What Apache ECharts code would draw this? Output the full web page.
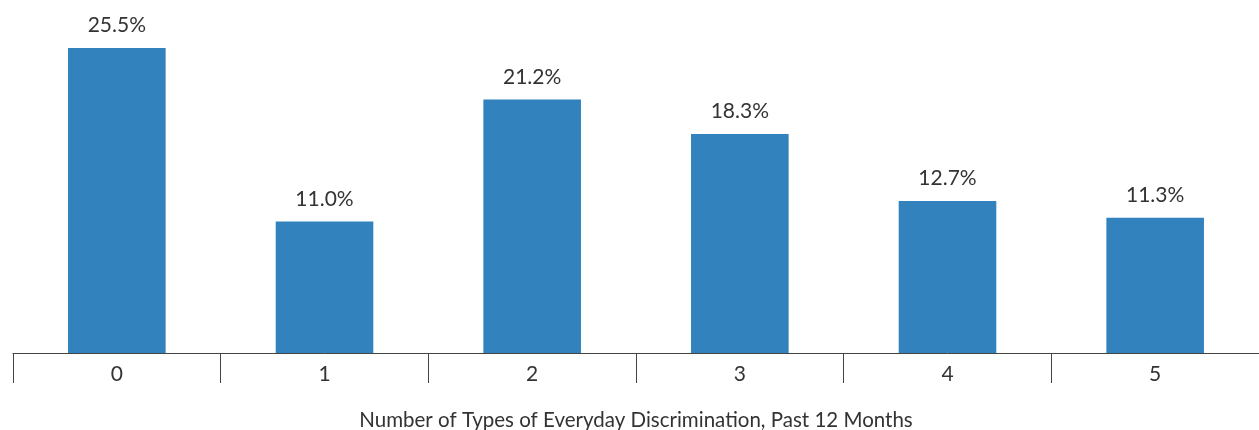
<!DOCTYPE html>
<html lang="en">
<head>
  <meta charset="UTF-8">
  <title>Everyday discrimination</title>
  <style>
    html, body { width: 100%; height: 100%; margin: 0; padding: 0; background: #fff; }
    #main { width: 1259px; height: 430px; }
  </style>
  <script src="https://cdn.jsdelivr.net/npm/echarts@6/dist/echarts.min.js"></script>
</head>
<body>
<div id="main"></div>
<script>
  var categories = ['0', '1', '2', '3', '4', '5'];
  var shares = [25.5, 11.0, 21.2, 18.3, 12.7, 11.3];
  var axisTitle = 'Number of Types of Everyday Discrimination, Past 12 Months';

  var myChart = echarts.init(document.getElementById('main'));

  var option = {
    animation: false,
    textStyle: { fontFamily: 'Lato' },
    grid: { left: 13, right: 0, top: 48, bottom: 77, containLabel: false, outerBoundsMode: 'none' },
    xAxis: {
      type: 'category',
      data: categories,
      name: axisTitle,
      nameLocation: 'middle',
      nameGap: 57,
      nameTextStyle: { fontSize: 20.5, color: '#333', fontFamily: 'Lato' },
      axisLine: { lineStyle: { color: '#444', width: 1 } },
      axisTick: { show: true, length: 30, lineStyle: { color: '#444', width: 1 } },
      axisLabel: { fontSize: 21, color: '#333', margin: 11, fontFamily: 'Lato' }
    },
    yAxis: {
      type: 'value',
      min: 0,
      max: 25.5,
      show: false,
      splitLine: { show: false }
    },
    series: [
      {
        type: 'bar',
        data: shares,
        barWidth: '47%',
        itemStyle: { color: '#3182bd' },
        label: {
          show: true,
          position: 'top',
          distance: 12,
          fontSize: 21,
          color: '#333',
          fontFamily: 'Lato',
          formatter: function (p) { return p.value.toFixed(1) + '%'; }
        }
      }
    ]
  };
  myChart.setOption(option);
</script>
</body>
</html>
